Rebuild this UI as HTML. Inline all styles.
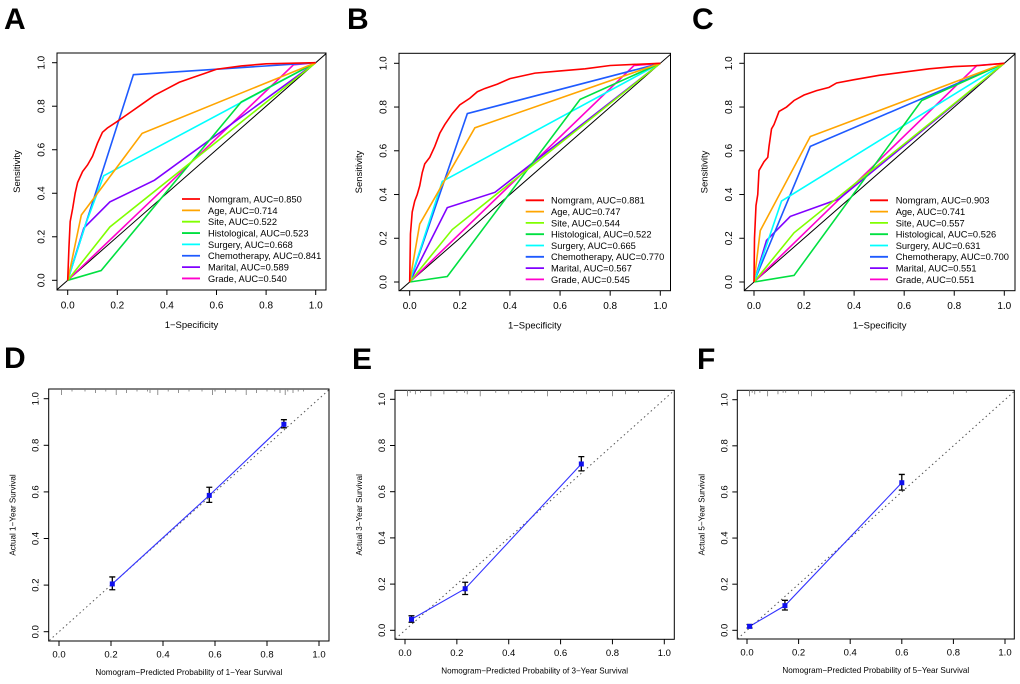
<!DOCTYPE html>
<html><head><meta charset="utf-8">
<style>
html,body{margin:0;padding:0;background:#fff;}
svg{display:block;font-family:"Liberation Sans",Arial,sans-serif;}
</style></head>
<body>
<svg id="fig" width="1020" height="684" viewBox="0 0 1020 684" xmlns="http://www.w3.org/2000/svg"></svg>
<script>
// ---------- data ----------
const rocNames = ["Nomgram","Age","Site","Histological","Surgery","Chemotherapy","Marital","Grade"];
const rocColors = ["#ff0000","#ffa500","#80ff00","#00e040","#00ffff","#1e5aff","#8000ff","#ff00cc"];
const aucA = ["0.850","0.714","0.522","0.523","0.668","0.841","0.589","0.540"];
const aucB = ["0.881","0.747","0.544","0.522","0.665","0.770","0.567","0.545"];
const aucC = ["0.903","0.741","0.557","0.526","0.631","0.700","0.551","0.551"];
const ticks = [0,0.2,0.4,0.6,0.8,1.0];
const tickLabels = ["0.0","0.2","0.4","0.6","0.8","1.0"];

const rocA = [
 [[0,0],[0.005,0.15],[0.01,0.27],[0.02,0.33],[0.03,0.40],[0.04,0.45],[0.06,0.50],[0.08,0.53],[0.10,0.57],[0.12,0.63],[0.14,0.68],[0.16,0.70],[0.2,0.73],[0.25,0.77],[0.3,0.81],[0.35,0.85],[0.4,0.88],[0.45,0.91],[0.5,0.93],[0.55,0.95],[0.6,0.97],[0.7,0.985],[0.8,0.995],[1,1]],
 [[0,0],[0.055,0.30],[0.30,0.675],[1,1]],
 [[0,0],[0.17,0.245],[1,1]],
 [[0,0],[0.135,0.045],[0.70,0.82],[1,1]],
 [[0,0],[0.07,0.25],[0.145,0.48],[1,1]],
 [[0,0],[0.265,0.945],[1,1]],
 [[0,0],[0.065,0.24],[0.17,0.36],[0.35,0.46],[1,1]],
 [[0,0],[0.91,0.99],[1,1]]
];
const rocB = [
 [[0,0],[0.003,0.22],[0.01,0.32],[0.02,0.37],[0.03,0.40],[0.04,0.44],[0.05,0.50],[0.06,0.54],[0.08,0.57],[0.10,0.62],[0.12,0.68],[0.14,0.72],[0.17,0.77],[0.2,0.81],[0.24,0.84],[0.27,0.87],[0.3,0.885],[0.35,0.905],[0.4,0.93],[0.5,0.955],[0.6,0.965],[0.7,0.975],[0.8,0.99],[1,1]],
 [[0,0],[0.04,0.265],[0.26,0.705],[1,1]],
 [[0,0],[0.17,0.24],[1,1]],
 [[0,0],[0.15,0.025],[0.68,0.835],[1,1]],
 [[0,0],[0.13,0.46],[1,1]],
 [[0,0],[0.23,0.77],[1,1]],
 [[0,0],[0.15,0.34],[0.34,0.41],[1,1]],
 [[0,0],[0.895,0.99],[1,1]]
];
const rocC = [
 [[0,0],[0.002,0.2],[0.008,0.35],[0.015,0.4],[0.02,0.51],[0.04,0.55],[0.055,0.57],[0.06,0.62],[0.07,0.7],[0.08,0.72],[0.1,0.78],[0.13,0.8],[0.16,0.83],[0.2,0.855],[0.25,0.875],[0.3,0.89],[0.33,0.91],[0.4,0.925],[0.5,0.945],[0.6,0.96],[0.7,0.975],[0.8,0.985],[0.9,0.99],[1,1]],
 [[0,0],[0.025,0.235],[0.225,0.665],[1,1]],
 [[0,0],[0.16,0.225],[1,1]],
 [[0,0],[0.16,0.03],[0.67,0.83],[1,1]],
 [[0,0],[0.11,0.37],[1,1]],
 [[0,0],[0.225,0.62],[1,1]],
 [[0,0],[0.05,0.19],[0.145,0.30],[0.34,0.38],[1,1]],
 [[0,0],[0.89,0.99],[1,1]]
];

const calDx = [0.205,0.578,0.865], calDy = [0.205,0.585,0.89], calDlo = [0.18,0.555,0.875], calDhi = [0.235,0.62,0.91];
const calEx = [0.025,0.232,0.68], calEy = [0.048,0.18,0.72], calElo = [0.035,0.155,0.69], calEhi = [0.063,0.208,0.752];
const calFx = [0.01,0.147,0.60], calFy = [0.017,0.107,0.64], calFlo = [0.01,0.088,0.608], calFhi = [0.025,0.13,0.676];
const rugD = [0.01,0.05,0.1,0.14,0.18,0.22,0.26,0.3,0.34,0.35,0.38,0.42,0.46,0.5,0.55,0.59,0.6,0.6,0.64,0.68,0.72,0.76,0.8,0.83,0.85,0.87,0.88,0.9,0.92,0.94];
const rugE = [0.01,0.01,0.02,0.04,0.06,0.1,0.15,0.2,0.23,0.24,0.29,0.35,0.4,0.45,0.5,0.55,0.6,0.65,0.7,0.75,0.8,0.85,0.9];
const rugF = [0.01,0.01,0.02,0.03,0.05,0.08,0.12,0.14,0.15,0.2,0.25,0.3,0.4,0.5,0.55,0.6,0.65,0.7,0.8,0.85];

// ---------- drawing ----------
const NS = "http://www.w3.org/2000/svg";
const svg = document.getElementById("fig");
function el(tag, attrs, parent, text){
  const e = document.createElementNS(NS, tag);
  for (const k in attrs) e.setAttribute(k, attrs[k]);
  if (text !== undefined) e.textContent = text;
  (parent || svg).appendChild(e);
  return e;
}

function drawAxes(g, P, xTitle, yTitle, titleY, yTitleX){
  const sx = v => P.x0 + v*(P.x1-P.x0);
  const sy = v => P.y0 - v*(P.y0-P.y1);
  const box = el("rect",{x:P.bl,y:P.bt,width:P.br-P.bl,height:P.bb-P.bt,fill:"none",stroke:"#000","stroke-width":1},g);
  
  
  ticks.forEach((t,i)=>{
    el("line",{x1:sx(t),y1:P.bb,x2:sx(t),y2:P.bb+5,stroke:"#000"},g);
    const tx = el("text",{x:sx(t),y:P.bb+P.xlo,"font-size":P.kfs,"text-anchor":"middle",fill:"#000"},g,tickLabels[i]);
    
    
    el("line",{x1:P.bl,y1:sy(t),x2:P.bl-5,y2:sy(t),stroke:"#000"},g);
    const bx = P.bl-P.ylo;
    const ty = el("text",{x:bx,y:sy(t),"font-size":P.kfs,"text-anchor":"middle",fill:"#000",transform:`rotate(-90 ${bx} ${sy(t)})`},g,tickLabels[i]);
    
    
  });
  const xt = el("text",{x:(P.bl+P.br)/2,y:titleY,"font-size":P.tfs,"text-anchor":"middle",fill:"#000"},g,xTitle);
  
  
  const ycy=(P.bt+P.bb)/2;
  const yt = el("text",{x:yTitleX,y:ycy,"font-size":P.tfs,"text-anchor":"middle",fill:"#000",transform:`rotate(-90 ${yTitleX} ${ycy})`},g,yTitle);
  
  
  return {sx,sy};
}

function letter(ch,x,y){
  const t = el("text",{x:x,y:y,"font-size":30,"font-weight":"bold",fill:"#000"},svg,ch);
  
  
}

function rocPanel(id, P, curves, aucs, leg){
  const g = el("g",{});
  
  
  const {sx,sy} = drawAxes(g,P,"1\u2212Specificity","Sensitivity",P.bb+38,P.bl-37);
  const clip = "clip"+id;
  const cp = el("clipPath",{id:clip},g);
  el("rect",{x:P.bl,y:P.bt,width:P.br-P.bl,height:P.bb-P.bt},cp);
  const ref = el("line",{x1:sx(-0.05),y1:sy(-0.05),x2:sx(1.05),y2:sy(1.05),stroke:"#000","stroke-width":1,"clip-path":`url(#${clip})`},g);
  
  
  for (let i=curves.length-1;i>=0;i--){
    const d = curves[i].map((p,j)=>(j?"L":"M")+sx(p[0]).toFixed(2)+","+sy(p[1]).toFixed(2)).join(" ");
    const path = el("path",{d:d,fill:"none",stroke:rocColors[i],"stroke-width":1.6},g);
    
    
  }
  rocNames.forEach((n,i)=>{
    const y = leg.y + i*leg.dy;
    const ln = el("line",{x1:leg.lx1,y1:y,x2:leg.lx2,y2:y,stroke:rocColors[i],"stroke-width":1.8},g);
    
    
    const t = el("text",{x:leg.tx,y:y+3.4,"font-size":9.3,fill:"#000"},g,n+", AUC="+aucs[i]);
    
    
  });
}

function calPanel(id, P, xs, ys, lo, hi, rug, yr){
  const g = el("g",{});
  
  
  const {sx,sy} = drawAxes(g,P,`Nomogram\u2212Predicted Probability of ${yr}\u2212Year Survival`,`Actual ${yr}\u2212Year Survival`,P.bb+34,P.bl-33);
  const clip = "clip"+id;
  const cp = el("clipPath",{id:clip},g);
  el("rect",{x:P.bl,y:P.bt,width:P.br-P.bl,height:P.bb-P.bt},cp);
  const ref = el("line",{x1:sx(-0.05),y1:sy(-0.05),x2:sx(1.05),y2:sy(1.05),stroke:"#555","stroke-width":1,"stroke-dasharray":"1.5,3","clip-path":`url(#${clip})`},g);
  
  
  rug.forEach((r,i)=>{
    const len = (i%5===0)?6:(i%3===0?4:2.5);
    const rl = el("line",{x1:sx(r),y1:P.bt,x2:sx(r),y2:P.bt+len,stroke:"#777","stroke-width":0.8},g);
    
    
  });
  const d = xs.map((x,j)=>(j?"L":"M")+sx(x).toFixed(2)+","+sy(ys[j]).toFixed(2)).join(" ");
  const line = el("path",{d:d,fill:"none",stroke:"#3333ff","stroke-width":1.1},g);
  
  
  xs.forEach((x,j)=>{
    const X=sx(x);
    const eb = el("path",{d:`M${X},${sy(lo[j])}L${X},${sy(hi[j])}M${X-3},${sy(lo[j])}L${X+3},${sy(lo[j])}M${X-3},${sy(hi[j])}L${X+3},${sy(hi[j])}`,stroke:"#000","stroke-width":1.3,fill:"none"},g);
    
    
    const pt = el("rect",{x:X-2.5,y:sy(ys[j])-2.5,width:5,height:5,fill:"#1010ee"},g);
    
    
  });
}

const PA={bl:57,br:326,bt:53,bb:290,x0:67.7,x1:315.7,y0:280.3,y1:62.7,tfs:9.5,kfs:10,xlo:18.5,ylo:12.5};
const PB={bl:399,br:670.5,bt:53.3,bb:290.7,x0:409.7,x1:660.3,y0:282,y1:63.3,tfs:9.5,kfs:10,xlo:18.5,ylo:12.5};
const PC={bl:744.3,br:1015,bt:53.3,bb:290.7,x0:754,x1:1004.3,y0:282,y1:63.3,tfs:9.5,kfs:10,xlo:18.5,ylo:12.5};
const PD={bl:48.7,br:329,bt:389,bb:641,x0:59,x1:319,y0:631.7,y1:398.7,tfs:8.1,kfs:9.5,xlo:16.5,ylo:10};
const PE={bl:395,br:674.3,bt:390.3,bb:639.3,x0:405,x1:664.3,y0:630.3,y1:399.3,tfs:8.1,kfs:9.5,xlo:16.5,ylo:10};
const PF={bl:737.3,br:1014.3,bt:390.3,bb:639,x0:747,x1:1005,y0:630.3,y1:399.7,tfs:8.1,kfs:9.5,xlo:16.5,ylo:10};

rocPanel("a",PA,rocA,aucA,{lx1:182,lx2:200,tx:208,y:199,dy:11.35});
rocPanel("b",PB,rocB,aucB,{lx1:525.7,lx2:544,tx:551,y:200.3,dy:11.3});
rocPanel("c",PC,rocC,aucC,{lx1:870,lx2:888,tx:895.7,y:200.3,dy:11.3});
calPanel("d",PD,calDx,calDy,calDlo,calDhi,rugD,1);
calPanel("e",PE,calEx,calEy,calElo,calEhi,rugE,3);
calPanel("f",PF,calFx,calFy,calFlo,calFhi,rugF,5);

letter("A",4,29); letter("B",347,29); letter("C",692,29);
letter("D",4,368); letter("E",352,369); letter("F",697,369);
</script>
</body></html>
